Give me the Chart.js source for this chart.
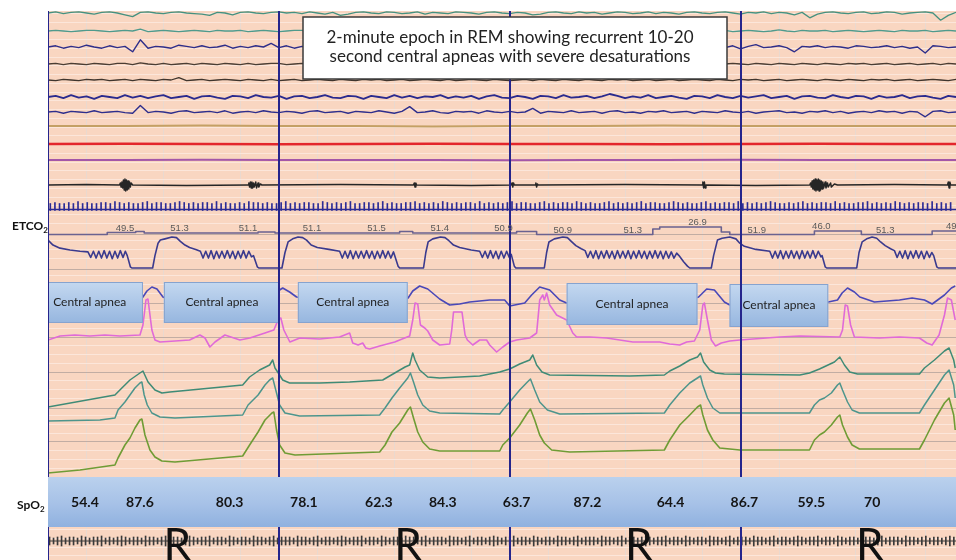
<!DOCTYPE html>
<html>
<head>
<meta charset="utf-8">
<script src="https://cdn.jsdelivr.net/npm/chart.js@4.4.0/dist/chart.umd.min.js"></script>
<style>
  html, body { margin: 0; padding: 0; background: #fff; }
  #wrap { width: 956px; height: 560px; }
</style>
</head>
<body>
<div id="wrap"><canvas id="psg" width="956" height="560"></canvas></div>
<script>
// ---- data (time in seconds across the 2-minute window) ----
const EEG_DT = 1;      // eeg traces sampled once a second
const FLAT_DT = 10;    // flat channels
const HR_RR = 0.6;     // beat spacing, upper comb
const LEG_RR = 0.52;   // beat spacing, bottom comb

const eeg1Vals = [0,10,-5,5,10,0,-10,5,10,0,-15,-30,5,10,0,-5,5,10,0,-5,
  -10,-20,5,0,-15,5,10,0,-5,5,10,0,5,-5,10,0,-10,5,-20,-10,
  5,10,0,-5,10,5,-5,0,10,-10,5,0,-5,10,5,0,-10,5,10,0,
  -5,5,0,-15,-10,5,10,0,-5,10,0,5,-10,0,10,5,-5,0,10,-5,
  5,0,-10,5,10,0,-5,5,10,0,-10,5,0,10,-5,5,0,-15,5,-40,
  -10,5,10,0,-5,5,10,-5,0,10,5,-10,0,5,10,0,-60,-20,5];
const eeg2Vals = [0,5,0,-5,0,5,5,0,-5,0,5,0,15,-5,0,5,0,-5,0,5,
  0,-5,5,0,0,5,-5,0,5,0,-5,0,5,5,0,-5,0,5,0,-5,
  5,0,0,-5,5,0,5,-5,0,5,0,0,-5,5,0,5,0,-5,0,5,
  0,5,-5,0,10,0,-5,5,0,0,5,-5,0,5,0,-5,5,0,0,5,
  -5,0,5,0,-5,0,5,0,5,-5,0,5,0,-5,0,10,0,-5,5,0,
  0,5,-5,0,5,0,-5,0,5,0,-5,5,0,0,5,-5,0,5,0];
const eeg3Vals = [0,10,-10,5,-5,15,0,-10,10,-5,5,-40,60,-10,5,0,-10,15,5,-5,
  10,-5,0,15,-10,5,-5,10,0,30,-5,10,-10,5,0,-5,15,-10,5,0,
  -10,10,5,-5,15,0,-10,5,10,-5,0,10,-15,5,0,10,-5,15,0,-10,
  5,-5,10,0,-10,15,5,-5,0,20,-5,10,-10,5,0,15,-5,0,10,-10,
  5,0,-5,10,15,-10,5,0,-5,10,-15,5,20,-5,0,10,-5,-40,5,0,
  10,-5,5,0,-10,10,5,-5,0,10,-5,5,-10,0,-50,10,5,-5,0];
const eeg4Vals = [0,5,-5,5,0,-5,5,0,-5,5,5,-5,10,0,-5,5,-5,0,5,-5,
  5,0,-5,5,0,-5,5,-5,0,5,5,-5,0,5,-5,0,5,-5,5,0,
  -5,5,0,-5,5,0,-5,5,0,5,-5,0,5,-5,5,0,-5,5,0,-5,
  5,0,-5,5,-5,0,5,0,-5,5,0,-5,5,0,10,-5,0,5,-5,0,
  5,-5,0,5,0,-5,5,-5,0,5,0,-5,5,0,-5,5,0,-5,5,0,
  -5,5,0,-5,5,0,5,-5,0,5,-5,0,5,-5,0,5,-5,5,0];
const eeg5Vals = [0,-5,5,0,-5,5,0,5,-5,0,5,-5,5,0,-5,5,0,20,-5,0,
  5,-5,0,5,0,-5,5,0,-5,5,-5,0,5,-5,0,5,0,-5,5,0,
  -5,5,0,5,-5,0,5,-5,0,5,0,-5,5,-5,0,5,0,-5,5,0,
  -5,0,5,-5,5,0,-5,5,0,-5,5,0,-5,5,0,5,-5,0,5,-5,
  0,5,-5,0,5,0,-5,5,0,-5,5,0,5,-5,0,5,-5,0,5,0,
  -5,5,0,-5,5,0,-5,5,0,5,-5,0,5,-5,0,5,0,-5,5];
const eeg6Vals = [0,10,-10,15,-5,5,-15,10,0,-10,15,-5,10,-10,5,15,-10,0,10,-15,
  5,10,-5,-15,10,5,-10,15,0,-5,10,-15,5,10,-10,0,15,-5,-10,10,
  5,-15,10,0,-10,15,-5,10,-10,5,0,15,-10,5,-5,10,-15,5,15,-5,
  -10,10,0,-15,10,5,-10,15,-5,0,10,-10,5,25,10,-10,5,-5,15,-10,
  0,10,-5,-15,10,5,-10,15,0,-10,10,-5,5,15,-10,0,10,-15,5,10,
  -5,-10,15,0,-10,10,5,-15,10,-5,0,15,-10,5,10,-5,-15,10,0];
const eeg7Vals = [0,5,-10,5,0,-5,10,-5,0,5,-5,-10,55,-5,5,0,-10,5,10,-5,
  0,5,-5,10,-10,0,5,-5,10,0,-5,5,0,-10,5,10,-5,0,5,-10,
  5,0,-5,10,0,-10,5,45,-5,0,10,-5,-10,5,0,5,-10,10,0,-5,
  5,-5,0,30,-10,5,0,-5,10,-5,0,5,-10,5,10,-5,0,-10,5,0,
  10,-5,0,5,-10,5,0,-5,10,0,-5,5,-10,0,5,10,-5,0,-10,5,
  0,10,-5,5,-10,0,5,-5,10,0,5,-10,5,0,-40,5,10,-5,0];

const tanVals = [0,0,0.5,0,0,-0.5,0,0,0.5,0,0,0,0];
const redVals = [0,0.3,0,-0.3,0,0.3,0,0,-0.3,0,0.3,0,0];
const purpleVals = [0,0,0.2,0,0,0,-0.2,0,0,0.2,0,0,0];

const snoreTrace = [[0,0],[5,0.5],[9.3,0],[9.4,2],[9.5,-2],[9.6,3],[9.7,-3],[9.8,5],[9.9,-5],[10.0,6],[10.1,-6],
  [10.2,5],[10.3,-5],[10.4,4],[10.5,-4],[10.6,3],[10.7,-2],[10.8,2],[11.0,0],[18,-0.5],
  [26.0,0],[26.1,2],[26.2,-2],[26.3,3],[26.4,-3],[26.5,3],[26.6,-3],[26.7,2],[26.8,-2],[27.0,3],[27.1,-3],
  [27.3,2],[27.4,-2],[27.6,1],[27.8,0],[38,0.5],[47.5,0],[47.6,2],[47.7,-2],[47.8,2],[47.9,0],[55,-0.5],
  [60.2,0],[60.3,2],[60.4,-2],[60.5,2],[60.6,0],[63.3,0],[63.4,2],[63.5,-2],[63.6,1],[63.7,0],[75,0.5],
  [85.0,0],[85.1,3],[85.2,-3],[85.3,3],[85.4,-3],[85.5,0],[92,-0.5],
  [99.0,0],[99.1,2],[99.2,-2],[99.3,4],[99.4,-4],[99.5,5],[99.6,-5],[99.7,6],[99.8,-6],[99.9,5],[100.0,-5],
  [100.1,6],[100.2,-6],[100.3,5],[100.4,-5],[100.5,4],[100.6,-4],[100.7,3],[100.8,-3],[101.0,3],[101.1,-3],
  [101.3,2],[101.4,-2],[101.7,2],[101.8,-2],[102.2,1],[102.6,0],[110,0.5],
  [116.9,0],[117.0,3],[117.1,-3],[117.2,3],[117.3,0],[118,0]];

const hrHeights = [6,7,6,6,7,6,8,6,7,6,6,7,7,6,8,7,6,7,6,6,
  7,8,6,7,7,6,6,7,8,7,6,7,6,7,7,6,8,6,7,6,
  6,7,6,8,7,7,6,7,6,6,7,8,6,7,6,7,7,6,6,8,
  7,6,7,6,7,8,6,6,7,7,6,7,8,6,7,6,6,7,7,8,
  6,7,6,7,6,8,7,6,7,6,7,7,6,8,6,7,6,7,6,7,
  8,6,7,7,6,6,7,8,6,7,6,7,7,6,8,7,6,7,6,6,
  7,8,6,7,6,7,6,7,8,6,7,7,6,6,7,8,7,6,7,6,
  6,7,8,6,7,6,7,7,6,8,6,7,6,7,6,7,8,7,6,6,
  7,6,7,8,6,7,6,7,7,6,8,6,7,6,6,7,7,8,6,7,
  6,7,6,8,7,6,7,6,7,7,6,8,6,7,6,7];

// ETCO2 numeric trace (stepped) and its printed values
const etco2StepTimes  = [0, 7.7, 11.4, 12.5, 27.3, 29.5, 45.7, 47.4, 60.9, 63.5, 78.6, 79.5, 87.5, 88.6, 99.6, 105.7, 114.9, 118];
const etco2StepLevels = [0, 2, 3, 1.5, 2.5, 1.5, 3, 1.5, 3, 0, 5.5, 7.5, 2.5, 0, 3.5, 0, 3.5, 3.5];
const etco2LabelTimes  = [10.0, 17.1, 26.0, 34.3, 42.7, 50.9, 59.2, 66.9, 76.0, 84.4, 92.1, 100.5, 108.8, 117.9];
const etco2LabelValues = ['49.5','51.3','51.1','51.1','51.5','51.4','50.9','50.9','51.3','26.9','51.9','46.0','51.3','49.3'];

// capnography waveform (mmHg)
const etco2Wave = [[0,45],[0.65,37],[1.56,32],[2.86,29],[4.16,27],[5.19,26],
  [5.55,17],[5.9,27],[6.25,16],[6.6,27],[6.95,16],[7.3,28],[7.65,16],[8.0,27],[8.35,15],[8.7,27],[9.05,16],[9.4,28],[9.75,17],[10.05,27],
  [10.3,20],[10.7,2],[10.9,0],[13.6,0],
  [13.9,20],[14.3,40],[14.6,45],[15.2,47],[16.1,50],[16.7,49],[17.2,43],[17.8,37],[18.4,33],[19.2,30],[19.8,27],
  [20.15,16],[20.5,27],[20.85,16],[21.2,28],[21.55,15],[21.9,27],[22.25,16],[22.6,27],[22.95,16],[23.3,28],[23.65,16],[24.0,27],[24.35,15],[24.7,27],[25.05,16],[25.4,28],[25.75,16],[26.1,27],[26.45,18],
  [26.7,20],[27.2,2],[27.4,0],[30.4,0],
  [30.8,25],[31.2,42],[31.8,47],[32.5,50],[33.1,49],[33.6,45],[34.2,37],[35.0,33],[36.5,30],[37.9,27],
  [38.25,16],[38.6,27],[38.95,16],[39.3,28],[39.65,15],[40.0,27],[40.35,16],[40.7,27],[41.05,16],[41.4,28],[41.75,16],[42.1,27],[42.45,15],[42.8,27],[43.15,16],[43.5,28],[43.85,16],[44.2,27],[44.55,16],[44.9,26],
  [45.0,22],[45.5,3],[45.7,0],[48.8,0],
  [49.1,25],[49.4,42],[50.0,47],[51.0,50],[51.6,49],[52.1,44],[52.7,37],[53.5,33],[55.0,29],[56.1,27],
  [56.45,17],[56.8,27],[57.15,16],[57.5,28],[57.85,16],[58.2,27],[58.55,15],[58.9,27],[59.25,16],[59.6,27],[59.95,17],
  [60.2,22],[60.6,3],[60.8,0],[64.5,0],
  [64.8,25],[65.1,42],[65.8,47],[66.9,50],[67.5,49],[68.0,43],[68.6,36],[69.3,31],[69.8,28],
  [70.15,17],[70.5,27],[70.85,16],[71.2,28],[71.55,15],[71.9,27],[72.25,16],[72.6,28],[72.95,16],[73.3,27],[73.65,15],[74.0,28],[74.35,16],[74.7,27],[75.05,16],[75.4,28],[75.75,15],[76.1,27],
  [76.45,16],[76.8,28],[77.15,16],[77.5,27],[77.85,15],[78.2,27],[78.55,16],[78.9,28],[79.25,16],[79.6,27],[79.95,15],[80.3,27],[80.65,16],[81.0,26],[81.35,16],[81.7,24],
  [82.0,20],[82.6,10],[83.1,3],[83.4,0],[86.2,0],
  [86.5,20],[87.0,45],[87.6,48],[88.6,50],[89.4,47],[89.9,40],[90.5,35],[92.0,30],[93.8,27],
  [94.15,16],[94.5,27],[94.85,16],[95.2,28],[95.55,15],[95.9,27],[96.25,16],[96.6,28],[96.95,16],[97.3,27],[97.65,15],[98.0,28],[98.35,16],[98.7,27],[99.05,16],[99.4,28],[99.75,16],[100.1,27],[100.45,18],
  [100.6,20],[101.0,2],[101.2,0],[105.1,0],
  [105.4,25],[105.8,42],[106.4,47],[107.1,50],[107.7,48],[108.2,42],[108.8,36],[109.5,31],[110.0,28],
  [110.35,17],[110.7,27],[111.05,16],[111.4,28],[111.75,15],[112.1,27],[112.45,16],[112.8,28],[113.15,16],[113.5,27],[113.85,15],[114.2,27],[114.55,17],[114.85,25],
  [115.1,20],[115.5,2],[115.7,0],[118,0]];

const flowTrace = [[0,0],[6.75,-1],[11.95,1],[12.34,3],[12.86,9],[13.5,13],[14.16,11],[14.94,3],[15.84,0],[22.3,-1],
  [29.5,4],[30.1,10],[30.5,12],[31.4,8],[32.3,3],[36.6,0],[45.7,0],[46.8,2],[47.4,9],[48.3,14],[49.35,11],[50.9,1],
  [52.2,-5],[53.5,-4],[54.8,-2],[57.4,0],[59.35,0],[60.0,-6],[60.65,-5],[61.95,-3],[62.85,5],[63.9,13],[65.2,10],
  [66.5,0],[67.4,-3],[71.7,-2],[83.4,0],[84.55,3],[85.6,11],[86.6,10],[87.9,-2],[88.6,-5],[92.5,-3],[101.4,-2],
  [102.6,0],[103.2,7],[103.9,12],[104.8,8],[105.5,3],[107.4,-2],[110.65,0],[112.3,2],[113.9,0],[114.9,-4],
  [116.5,5],[117.4,12],[117.9,14]];

const magentaTrace = [[0,-2],[1.56,2],[3.5,3],[5.45,2],[7.4,3],[9.35,2],[11.95,3],[12.34,13],[12.73,38],[12.99,39],
  [13.25,23],[13.5,8],[13.9,-2],[14.55,-4],[16.5,-3],[18.4,-2],[19.74,3],[20.4,0],[21.04,-9],[21.7,-4],[22.99,3],
  [24.94,-2],[26.23,0],[28.2,5],[29.35,8],[29.9,18],[30.26,20],[30.65,8],[31.43,-4],[32.73,0],[35.3,-1],[37.9,1],
  [39.2,5],[39.6,-5],[40.3,-7],[40.9,-5],[41.3,-10],[41.8,-11],[43.1,-8],[45.06,-4],[47.0,2],[47.4,18],[47.7,35],
  [48.05,34],[48.4,13],[48.96,10],[49.35,7],[50.0,-2],[50.9,-7],[52.2,-6],[52.47,8],[52.7,26],[53.8,26],[54.2,3],
  [54.5,-2],[55.2,-7],[56.1,-2],[57.0,-2],[57.4,-7],[58.3,-14],[59.1,-9],[60.0,-4],[60.9,-2],[62.6,0],[63.5,5],
  [63.9,38],[64.3,43],[64.5,38],[64.8,45],[65.2,33],[66.1,23],[67.4,18],[68.2,5],[68.7,1],[70.4,1],[72.6,0],
  [74.3,-2],[76.0,-4],[79.5,-4],[80.8,-6],[82.1,-7],[83.0,-4],[84.0,-3],[84.7,8],[85.1,33],[85.3,35],[85.7,18],
  [86.2,-2],[86.75,-8],[87.5,-5],[88.6,-3],[89.9,-2],[95.1,1],[97.7,2],[102.9,1],[103.25,8],[103.6,33],[103.9,32],
  [104.3,13],[104.8,1],[108.05,0],[110.65,1],[113.25,0],[114.2,-5],[114.9,-7],[115.8,3],[116.5,23],[116.9,40],
  [117.4,38],[117.9,18]];

const greenA = [[0,-27],[8.7,-15],[9.6,-8],[10.65,0],[11.95,7],[12.34,9],[13.0,-2],[13.9,-10],[14.8,-13],[15.84,-12],
  [25.3,-5],[26.2,3],[27.5,10],[28.8,15],[29.2,20],[29.5,12],[30.1,5],[30.5,0],[31.4,-3],[35.3,-3],[39.2,-2],
  [43.5,0],[45.06,7],[46.4,13],[47.0,15],[47.4,27],[47.7,20],[48.3,10],[49.35,3],[50.9,2],[56.1,4],[58.7,8],
  [60.0,11],[61.3,16],[62.6,20],[63.0,25],[63.5,15],[64.2,8],[65.2,5],[75.6,4],[80.1,5],[80.8,9],[82.1,14],
  [83.4,20],[84.4,23],[84.8,27],[85.2,18],[86.0,10],[86.75,7],[87.9,6],[97.7,5],[98.96,7],[100.26,11],[102.2,18],
  [102.9,23],[103.5,15],[104.2,8],[105.2,6],[113.25,6],[113.9,12],[115.2,20],[116.5,29],[117.1,32],[117.7,20],[117.9,12]];
const greenB = [[0,-3],[6.75,-2],[8.7,0],[9.1,8],[10.0,16],[10.65,23],[11.3,30],[11.95,35],[12.2,36],[12.5,23],
  [12.9,13],[13.5,5],[14.55,1],[16.5,0],[25.3,3],[26.0,13],[27.3,23],[28.2,33],[28.8,38],[29.2,40],[29.6,28],
  [30.1,13],[30.8,5],[32.7,2],[43.1,3],[43.8,10],[44.7,20],[45.7,30],[46.75,40],[47.1,45],[47.5,36],[48.05,23],
  [48.7,13],[49.6,7],[50.9,5],[58.7,4],[59.1,8],[60.0,16],[61.3,28],[62.3,36],[62.7,39],[63.25,28],[63.9,16],
  [64.9,8],[66.5,4],[80.1,5],[80.8,13],[82.1,25],[83.4,35],[84.4,40],[84.8,42],[85.1,33],[85.7,20],[86.4,10],
  [87.3,5],[98.96,5],[99.6,13],[100.26,18],[100.9,20],[101.8,25],[102.6,33],[102.9,35],[103.25,28],[103.9,16],
  [104.5,8],[105.45,5],[113.25,5],[113.9,13],[115.2,28],[116.5,43],[117.1,48],[117.7,33],[117.9,20]];
const greenC = [[0,-13],[4.16,-10],[8.7,-5],[9.1,2],[10.0,15],[10.65,22],[11.3,32],[11.95,40],[12.2,41],[12.6,25],
  [13.25,10],[13.9,3],[14.8,-1],[16.5,-2],[25.3,4],[26.2,15],[27.3,28],[28.2,40],[29.1,47],[29.35,48],[29.7,30],
  [30.1,15],[30.8,7],[32.1,5],[43.1,8],[43.8,15],[44.7,28],[45.7,37],[46.75,50],[47.1,53],[47.5,42],[48.05,28],
  [48.7,18],[49.6,11],[50.9,9],[58.7,9],[59.1,15],[60.0,22],[61.3,35],[62.3,47],[62.7,51],[63.25,40],[63.9,25],
  [64.5,17],[65.45,10],[67.8,8],[80.1,10],[80.8,20],[82.1,35],[83.4,45],[84.4,53],[84.8,55],[85.1,45],[85.7,30],
  [86.4,20],[87.3,12],[89.9,10],[98.96,10],[99.6,20],[100.26,25],[100.9,28],[101.8,35],[102.6,43],[102.9,45],
  [103.25,35],[103.9,23],[104.5,15],[105.45,11],[113.25,11],[113.9,20],[115.2,40],[116.5,57],[117.1,62],[117.7,45],[117.9,30]];

const legHeights = [4,3,4,5,3,4,4,3,5,4,3,4,4,5,3,4,3,4,5,4,
  3,4,4,3,5,4,4,3,4,5,3,4,4,3,4,5,4,3,4,4,
  5,3,4,4,3,5,4,3,4,4,3,5,4,4,3,4,5,3,4,4,
  4,3,5,4,4,3,4,5,3,4,4,3,4,5,4,3,4,4,5,3,
  4,4,3,5,4,3,4,4,3,5,4,4,3,4,5,3,4,4,4,3,
  5,4,4,3,4,5,3,4,4,3,4,5,4,3,4,4,5,3,4,4,
  3,5,4,3,4,4,3,5,4,4,3,4,5,3,4,4,4,3,5,4,
  4,3,4,5,3,4,4,3,4,5,4,3,4,4,5,3,4,4,3,5,
  4,3,4,4,3,5,4,4,3,4,5,3,4,4,4,3,5,4,4,3,
  4,5,3,4,4,3,4,5,4,3,4,4,5,3,4,4,3,5,4,3,
  4,4,3,5,4,4,3,4,5,3,4,4,4,3,5,4,4,3,4,5,
  3,4,4,3,4,5,4];

// annotations
const apneaStart = [-1.5, 15.06, 32.47, 67.4, 88.57];
const apneaEnd   = [12.34, 30.13, 46.75, 84.4, 101.4];
const apneaLabel = 'Central apnea';
const spo2Times  = [4.8, 11.95, 23.6, 33.25, 43.0, 51.3, 60.9, 70.1, 80.9, 90.5, 99.2, 107.1];
const spo2Values = ['54.4','87.6','80.3','78.1','62.3','84.3','63.7','87.2','64.4','86.7','59.5','70'];
const epochStarts = [0, 30, 60, 90];
const stageLabels = ['R', 'R', 'R', 'R'];
const titleLines = ['2-minute epoch in REM showing recurrent 10-20',
                    'second central apneas with severe desaturations'];

// ---- layout ----
const X_MAX = 118;
const TOP = 11, BOTTOM = 560;
const lanes = {
  eeg1: [13, 0.12], eeg2: [31, 0.12], eeg3: [47, 0.12], eeg4: [64, 0.12], eeg5: [80, 0.12],
  eeg6: [97, 0.12], eeg7: [112, 0.12], tan: [126, 1], red: [144, 1], purple: [160, 1],
  snore: [185, 1], hr: [209.5, 1], step: [234.5, 1], etco2: [268, 0.62], flow: [300, 1],
  mag: [338, 1], gA: [380, 1], gB: [418, 1], gC: [460, 1], leg: [541, 1]
};
const BOX_ROWS = [[282, 323], [282, 323], [282, 323], [283, 325], [284, 327]];
const BAND = [477, 527];
const TITLE_BOX = [303, 17, 727, 79];
const MAJOR_ROWS = [234, 269, 303, 337, 372, 408, 442];

const gridRows = MAJOR_ROWS.slice();
for (let p = 13.25; p < BOTTOM; p += 8.75) {
  if (MAJOR_ROWS.every(m => Math.abs(m - p) > 3)) gridRows.push(p);
}

const sampled = (vals, dt) => vals.map((v, i) => ({ x: i * dt, y: v }));
const toPts = arr => arr.map(p => ({ x: p[0], y: p[1] }));
const beats = (h, rr, t0, mirror) => h.map((v, i) => ({ x: t0 + i * rr, y: mirror ? [-v, v] : [-1, v] }));
const stepPts = etco2StepTimes.map((t, i) => ({ x: t, y: etco2StepLevels[i] }));
const flat = [{ x: 0, y: 0 }, { x: X_MAX, y: 0 }];

function line(id, data, color, width, extra) {
  return Object.assign({ type: 'line', yAxisID: id, data, borderColor: color, borderWidth: width,
    pointRadius: 0, fill: false, tension: 0, borderJoinStyle: 'round' }, extra || {});
}
function ticks(id, data, color) {
  return { type: 'bar', yAxisID: id, data, backgroundColor: color, barThickness: 1, grouped: false };
}

const scales = {
  x: { type: 'linear', axis: 'x', min: 0, max: X_MAX, offset: false,
       ticks: { display: false, stepSize: 10 }, border: { display: false },
       grid: { drawTicks: false, color: '#ead9cf', lineWidth: 1 } },
  rows: { type: 'linear', axis: 'y', position: 'left', reverse: true, min: TOP, max: BOTTOM,
       ticks: { display: false }, border: { display: false },
       grid: { drawTicks: false, lineWidth: 1,
               color: c => MAJOR_ROWS.includes(c.tick.value) ? '#c2ada3' : '#fce6da' },
       afterBuildTicks: s => { s.ticks = gridRows.map(v => ({ value: v })); } }
};
Object.entries(lanes).forEach(([id, [base, gain]]) => {
  scales[id] = { type: 'linear', axis: 'y', display: false,
                 min: -(BOTTOM - base) / gain, max: (base - TOP) / gain };
});

const datasets = [
  line('eeg1', sampled(eeg1Vals, EEG_DT), '#45917f', 1.3),
  line('eeg2', sampled(eeg2Vals, EEG_DT), '#4f9a8c', 1.3),
  line('eeg3', sampled(eeg3Vals, EEG_DT), '#2e2e8a', 1.4),
  line('eeg4', sampled(eeg4Vals, EEG_DT), '#4a3d33', 1.3),
  line('eeg5', sampled(eeg5Vals, EEG_DT), '#3f352d', 1.3),
  line('eeg6', sampled(eeg6Vals, EEG_DT), '#2a2a8e', 1.8),
  line('eeg7', sampled(eeg7Vals, EEG_DT), '#2e2e8c', 1.4),
  line('tan', sampled(tanVals, FLAT_DT), '#c4a064', 1.8),
  line('red', sampled(redVals, FLAT_DT), '#e3262b', 2.4),
  line('purple', sampled(purpleVals, FLAT_DT), '#a457a8', 2),
  line('snore', toPts(snoreTrace), '#262626', 1.5),
  line('hr', flat, '#2b2b96', 1.4),
  ticks('hr', beats(hrHeights, HR_RR, 0.3, false), '#2b2b96'),
  line('step', stepPts, '#6a6290', 1.6, { stepped: true }),
  line('etco2', toPts(etco2Wave), '#3a3a8e', 1.6),
  line('flow', toPts(flowTrace), '#4a48b8', 1.6),
  line('mag', toPts(magentaTrace), '#e06ad8', 1.6),
  line('gA', toPts(greenA), '#3f8b76', 1.5),
  line('gB', toPts(greenB), '#4d958c', 1.5),
  line('gC', toPts(greenC), '#6f9c35', 1.6),
  line('leg', flat, '#3a3a3a', 1.2),
  ticks('leg', beats(legHeights, LEG_RR, 0.2, true), '#3a3a3a')
];

function stepLevelAt(t) {
  let lv = etco2StepLevels[0];
  etco2StepTimes.forEach((s, i) => { if (t >= s) lv = etco2StepLevels[i]; });
  return lv;
}

const overlay = {
  id: 'overlay',
  beforeDraw(chart) {
    const { ctx, chartArea: a } = chart;
    ctx.save();
    ctx.fillStyle = '#ffffff';
    ctx.fillRect(0, 0, chart.width, chart.height);
    ctx.fillStyle = '#f9d6c1';
    ctx.fillRect(a.left, a.top, a.right - a.left, a.bottom - a.top);
    ctx.restore();
  },
  afterDatasetsDraw(chart) {
    const { ctx, chartArea: a, scales: s } = chart;
    const x = s.x;
    ctx.save();
    ctx.beginPath();
    ctx.rect(a.left, a.top, a.right - a.left, a.bottom - a.top);
    ctx.clip();

    // central apnea boxes
    apneaStart.forEach((t0, i) => {
      const [y0, y1] = BOX_ROWS[i];
      const x0 = x.getPixelForValue(t0), x1 = x.getPixelForValue(apneaEnd[i]);
      const g = ctx.createLinearGradient(0, y0, 0, y1);
      g.addColorStop(0, '#c4d8f0');
      g.addColorStop(1, '#96b6df');
      ctx.fillStyle = g;
      ctx.fillRect(x0, y0, x1 - x0, y1 - y0);
      ctx.strokeStyle = '#86a3cf';
      ctx.lineWidth = 1;
      ctx.strokeRect(x0 + 0.5, y0 + 0.5, x1 - x0 - 1, y1 - y0 - 1);
      ctx.fillStyle = '#1e1e1e';
      ctx.font = '12px Lato';
      ctx.textAlign = 'center';
      ctx.textBaseline = 'middle';
      ctx.fillText(apneaLabel, (x0 + x1) / 2, (y0 + y1) / 2);
    });

    // 30-second epoch lines
    ctx.strokeStyle = '#25258c';
    ctx.lineWidth = 2;
    epochStarts.forEach(t => {
      const px = Math.round(x.getPixelForValue(t));
      ctx.beginPath();
      ctx.moveTo(px, a.top);
      ctx.lineTo(px, a.bottom);
      ctx.stroke();
    });

    // ETCO2 printed values
    ctx.fillStyle = '#5a5a5a';
    ctx.font = '9.5px "Liberation Sans"';
    ctx.textAlign = 'center';
    ctx.textBaseline = 'alphabetic';
    etco2LabelTimes.forEach((t, i) => {
      const py = s.step.getPixelForValue(stepLevelAt(t)) - 2;
      ctx.fillText(etco2LabelValues[i], x.getPixelForValue(t), py);
    });

    // SpO2 band
    const bg = ctx.createLinearGradient(0, BAND[0], 0, BAND[1]);
    bg.addColorStop(0, '#bad1ed');
    bg.addColorStop(0.55, '#a6c1e7');
    bg.addColorStop(1, '#8fb1df');
    ctx.fillStyle = bg;
    ctx.fillRect(a.left, BAND[0], a.right - a.left, BAND[1] - BAND[0]);
    ctx.fillStyle = '#151515';
    ctx.font = 'bold 14px Lato';
    ctx.textBaseline = 'middle';
    spo2Times.forEach((t, i) => ctx.fillText(spo2Values[i], x.getPixelForValue(t), (BAND[0] + BAND[1]) / 2));

    // sleep stage letters
    ctx.fillStyle = '#111';
    ctx.font = '44px Lato';
    ctx.textAlign = 'left';
    ctx.textBaseline = 'alphabetic';
    stageLabels.forEach((lab, i) => ctx.fillText(lab, x.getPixelForValue(epochStarts[i] + 15), 560));

    // title box
    const [bx0, by0, bx1, by1] = TITLE_BOX;
    ctx.fillStyle = '#ffffff';
    ctx.fillRect(bx0, by0, bx1 - bx0, by1 - by0);
    ctx.strokeStyle = '#3a3a3a';
    ctx.lineWidth = 1.5;
    ctx.strokeRect(bx0, by0, bx1 - bx0, by1 - by0);
    ctx.font = '18px Lato';
    const fit = 18 * 367 / ctx.measureText(titleLines[0]).width;
    ctx.font = fit.toFixed(2) + 'px Lato';
    ctx.fillStyle = '#222';
    ctx.textAlign = 'center';
    ctx.fillText(titleLines[0], 510, 43);
    ctx.fillText(titleLines[1], 510, 62);
    ctx.restore();

    // channel names in the left margin
    ctx.save();
    ctx.fillStyle = '#111';
    ctx.textAlign = 'left';
    ctx.textBaseline = 'alphabetic';
    ctx.font = 'bold 12px Lato';
    ctx.fillText('ETCO', 12, 230);
    let w = ctx.measureText('ETCO').width;
    ctx.font = 'bold 8px Lato';
    ctx.fillText('2', 12 + w, 233);
    ctx.font = 'bold 12px Lato';
    ctx.fillText('SpO', 17, 509);
    w = ctx.measureText('SpO').width;
    ctx.font = 'bold 8px Lato';
    ctx.fillText('2', 17 + w, 512);
    ctx.restore();
  }
};

new Chart(document.getElementById('psg'), {
  type: 'line',
  data: { datasets },
  options: {
    responsive: false,
    animation: false,
    events: [],
    layout: { padding: { left: 48, top: TOP, right: 0, bottom: 0 } },
    plugins: { legend: { display: false }, tooltip: { enabled: false } },
    scales
  },
  plugins: [overlay]
});
</script>
</body>
</html>
